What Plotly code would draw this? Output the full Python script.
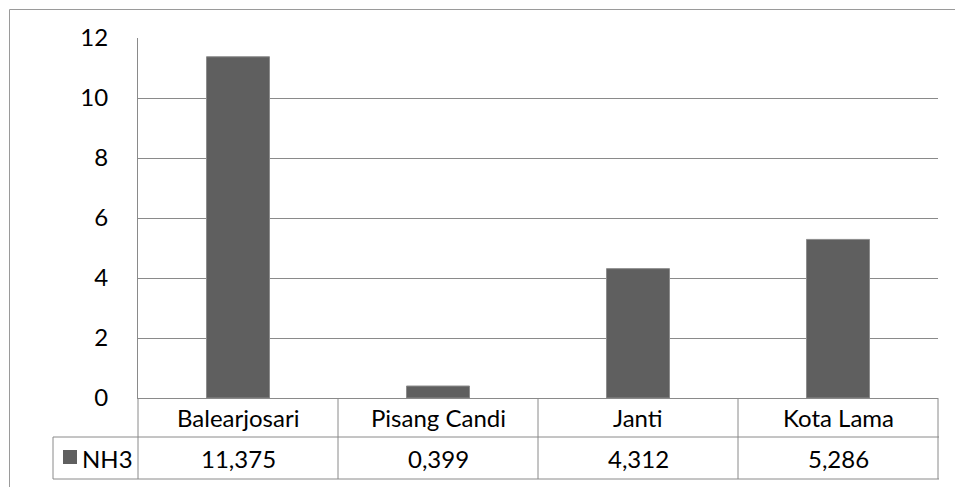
import plotly.graph_objects as go

# NH3 concentration per sampling location
categories = ["Balearjosari", "Pisang Candi", "Janti", "Kota Lama"]
nh3_values = [11.375, 0.399, 4.312, 5.286]
series_name = "NH3"
y_ticks = [0, 2, 4, 6, 8, 10, 12]

FONT = "Lato"
FS = 24
GRID = "#8a8a8a"
BAR = "#5f5f5f"

W, H = 955, 487
L, R, T, B = 138, 17, 38, 89
PW, PH = W - L - R, H - T - B


def px_x(px):
    return (px - L) / PW


def px_y(py):
    return (H - B - py) / PH


def fmt(v):
    return f"{v:.3f}".replace(".", ",")


fig = go.Figure(
    go.Bar(
        x=categories,
        y=nh3_values,
        name=series_name,
        marker=dict(color=BAR, line=dict(color="#8c8c8c", width=1)),
        width=0.315,
        showlegend=False,
    )
)

shapes = []
line = dict(color=GRID, width=1)
# outer chart frame (runs off the right and bottom edges)
shapes.append(dict(type="line", xref="paper", yref="paper",
                   x0=px_x(9.5), x1=px_x(960), y0=px_y(9.5), y1=px_y(9.5),
                   line=dict(color="#9a9a9a", width=1)))
shapes.append(dict(type="line", xref="paper", yref="paper",
                   x0=px_x(9.5), x1=px_x(9.5), y0=px_y(9.5), y1=px_y(495),
                   line=dict(color="#9a9a9a", width=1)))

# data table grid below the axis
row1_bot, row2_bot = 437, 479
table_right = 939
shapes.append(dict(type="line", xref="paper", yref="paper",
                   x0=px_x(53), x1=px_x(table_right), y0=px_y(row1_bot), y1=px_y(row1_bot), line=line))
shapes.append(dict(type="line", xref="paper", yref="paper",
                   x0=px_x(53), x1=px_x(table_right), y0=px_y(row2_bot), y1=px_y(row2_bot), line=line))
shapes.append(dict(type="line", xref="paper", yref="paper",
                   x0=px_x(53), x1=px_x(53), y0=px_y(row1_bot), y1=px_y(row2_bot), line=line))
n = len(categories)
for i in range(n + 1):
    xp = i / n
    shapes.append(dict(type="line", xref="paper", yref="paper",
                       x0=xp, x1=xp, y0=0, y1=px_y(row2_bot), line=line))

# legend key inside the table
shapes.append(dict(type="rect", xref="paper", yref="paper",
                   x0=px_x(63), x1=px_x(77), y0=px_y(450), y1=px_y(464),
                   line=dict(width=0), fillcolor=BAR))

annotations = []
row1_mid = (H - B + row1_bot) / 2
row2_mid = (row1_bot + row2_bot) / 2
txt_font = dict(family=FONT, size=FS, color="#000")
for cat, val in zip(categories, nh3_values):
    annotations.append(dict(x=cat, xref="x", y=px_y(row1_mid), yref="paper",
                            text=cat, showarrow=False, xanchor="center", yanchor="middle",
                            font=txt_font))
    annotations.append(dict(x=cat, xref="x", y=px_y(row2_mid), yref="paper",
                            text=fmt(val), showarrow=False, xanchor="center", yanchor="middle",
                            font=txt_font))
annotations.append(dict(x=px_x(80), xref="paper", y=px_y(row2_mid), yref="paper",
                        text=series_name, showarrow=False, xanchor="left", yanchor="middle",
                        font=txt_font))

fig.update_layout(
    width=W, height=H,
    margin=dict(l=L, r=R, t=T, b=B, pad=0),
    paper_bgcolor="white", plot_bgcolor="white",
    font=txt_font,
    shapes=shapes,
    annotations=annotations,
    showlegend=False,
    xaxis=dict(showticklabels=False, showgrid=False, ticks="",
               showline=True, linecolor=GRID, linewidth=1, fixedrange=True),
    yaxis=dict(range=[0, 12], tickvals=y_ticks, ticktext=[str(v) for v in y_ticks],
               showgrid=True, gridcolor=GRID, gridwidth=1,
               showline=True, linecolor=GRID, linewidth=1,
               zeroline=False, ticks="", ticklabelstandoff=24,
               tickfont=txt_font),
)

fig.write_html("out.html")
